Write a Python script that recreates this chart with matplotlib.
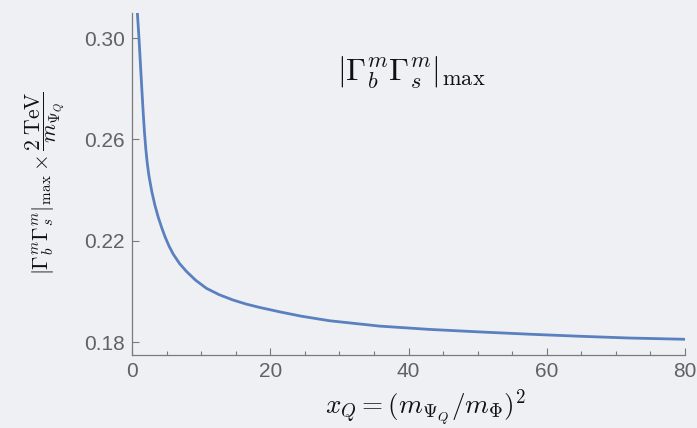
import matplotlib
matplotlib.use("Agg")
import matplotlib.pyplot as plt
from matplotlib.ticker import MultipleLocator

plt.rcParams['mathtext.fontset'] = 'cm'
plt.rcParams['font.family'] = ['Liberation Sans', 'DejaVu Sans']

# curve sampled along x_Q
x_q = [0.77, 1.01, 1.40, 1.60, 1.80, 2.00, 2.20, 2.45, 2.86, 3.32, 3.80, 4.30,
       4.77, 5.35, 5.96, 6.90, 7.90, 9.20, 10.77, 12.6, 14.6, 16.5, 18.4, 21.4,
       24.5, 28.6, 35.8, 43.0, 50.3, 57.5, 64.7, 71.9, 80.0]
gamma_max = [0.3102, 0.3000, 0.2810, 0.2715, 0.2630, 0.2562, 0.2508, 0.2457,
             0.2395, 0.2340, 0.2293, 0.2252, 0.2217, 0.2180, 0.2148, 0.2110,
             0.2079, 0.2045, 0.2013, 0.1988, 0.1967, 0.1951, 0.1938, 0.1920,
             0.1903, 0.1885, 0.1864, 0.1851, 0.1841, 0.1832, 0.1824, 0.1817,
             0.1812]

y_ticks = [0.18, 0.22, 0.26, 0.30]
x_ticks = [0, 20, 40, 60, 80]

bg = '#eff0f4'
axis_col = '#7a7a7a'
text_col = '#626262'

fig = plt.figure(figsize=(6.97, 4.28), dpi=100, facecolor=bg)
ax = fig.add_axes([132/697, 1-355/428, (685-132)/697, (355-12.7)/428])
ax.set_facecolor(bg)

ax.plot(x_q, gamma_max, color='#5a80bf', lw=2.0, solid_capstyle='butt',
        solid_joinstyle='round')

ax.set_xlim(0, 80)
ax.set_ylim(0.175, 0.31)
ax.set_xticks(x_ticks)
ax.set_yticks(y_ticks)
ax.set_yticklabels([f'{v:.2f}' for v in y_ticks])
ax.xaxis.set_minor_locator(MultipleLocator(5))

for s in ['top', 'right']:
    ax.spines[s].set_visible(False)
for s in ['left', 'bottom']:
    ax.spines[s].set_color(axis_col)
    ax.spines[s].set_linewidth(0.9)

# ticks point into the plot area
ax.tick_params(which='major', direction='in', length=5, width=0.8, color=axis_col,
               labelsize=15, labelcolor=text_col, pad=5)
ax.tick_params(which='minor', direction='in', length=3, width=0.8, color=axis_col)

fig.text(411/697, 1-73/428, r'$|\Gamma_b^m\Gamma_s^m|_{\max}$', fontsize=23,
         ha='center', va='center', color='#111111')
fig.text(425/697, 1-408/428, r'$x_Q=(m_{\Psi_Q}/m_\Phi)^2$', fontsize=19.5,
         ha='center', va='center', color='#111111')
fig.text(45/697, 1-183/428,
         r'$|\Gamma_b^m\Gamma_s^m|_{\max}\times\dfrac{2\;\mathrm{TeV}}{m_{\Psi_Q}}$',
         fontsize=15.5, rotation=90, ha='center', va='center', color='#111111')

fig.savefig('out.png', dpi=100, facecolor=bg)
